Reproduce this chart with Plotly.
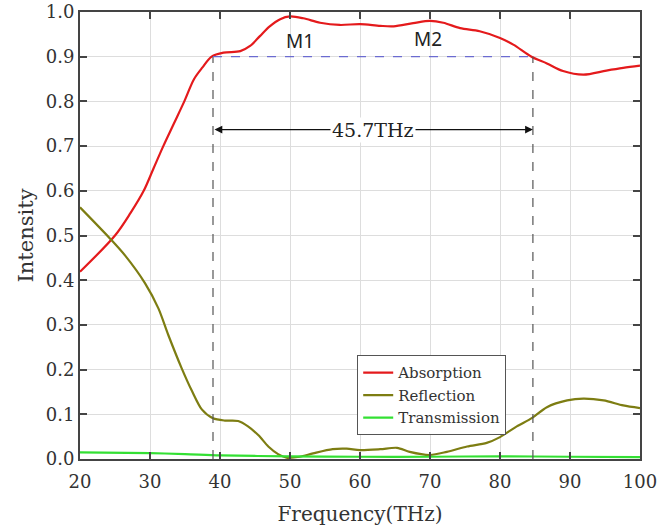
import plotly.graph_objects as go

# ---- data ----
freq_abs = [20, 25.0, 27.2, 29.1, 30.5, 31.9, 33.4, 34.9, 36.3, 37.5, 38.8, 40.5, 42.9, 44.3,
            45.7, 47.1, 48.6, 50, 51.9, 54.3, 57.1, 60, 62.9, 64.8, 67.6, 70, 71.9, 74.3,
            77.1, 80, 81.9, 84.5, 86.7, 89, 91.9, 95.2, 97.6, 100]
absorption = [0.419, 0.5, 0.55, 0.6, 0.65, 0.7, 0.75, 0.8, 0.85, 0.876, 0.9, 0.909, 0.9125,
              0.924, 0.946, 0.968, 0.984, 0.99, 0.986, 0.976, 0.971, 0.973, 0.969, 0.968,
              0.975, 0.98, 0.976, 0.964, 0.957, 0.942, 0.927, 0.9, 0.885, 0.868, 0.86,
              0.869, 0.875, 0.88]

freq_ref = [20, 24.3, 26.4, 29.3, 31.2, 32.6, 34.5, 36.0, 37.4, 39, 40.7, 42.6, 44.0, 45.5,
            46.9, 48.3, 49.5, 51.4, 53.3, 56.1, 58.1, 60, 62.9, 65.3, 67.1, 70, 72.4, 75.3,
            78.1, 80, 82.4, 84.6, 86.7, 89.6, 91.9, 94.8, 97.6, 100]
reflection = [0.563, 0.493, 0.456, 0.393, 0.337, 0.278, 0.204, 0.152, 0.111, 0.091, 0.086,
              0.085, 0.073, 0.053, 0.028, 0.011, 0.003, 0.005, 0.0125, 0.022, 0.023, 0.02,
              0.022, 0.025, 0.016, 0.009, 0.016, 0.028, 0.036, 0.049, 0.073, 0.092, 0.116,
              0.131, 0.135, 0.131, 0.12, 0.114]

freq_tra = [20, 30, 35, 40, 50, 60, 70, 80, 90, 100]
transmission = [0.015, 0.013, 0.011, 0.008, 0.006, 0.005, 0.005, 0.006, 0.005, 0.004]

x_ticks = [20, 30, 40, 50, 60, 70, 80, 90, 100]
y_ticks = [0.0, 0.1, 0.2, 0.3, 0.4, 0.5, 0.6, 0.7, 0.8, 0.9, 1.0]

band_low = 39.0
band_high = 84.7
band_level = 0.9
band_label = "45.7THz"
arrow_level = 0.737
peaks = [("M1", 51.4, 0.935), ("M2", 69.7, 0.94)]

SERIF = "DejaVu Serif"
AXC = "#444444"

fig = go.Figure()
fig.add_trace(go.Scatter(x=freq_abs, y=absorption, name="Absorption", mode="lines",
                         line=dict(color="#e41a1c", width=2.2, shape="spline", smoothing=0.9)))
fig.add_trace(go.Scatter(x=freq_ref, y=reflection, name="Reflection", mode="lines",
                         line=dict(color="#7d7d12", width=2.2, shape="spline", smoothing=0.8)))
fig.add_trace(go.Scatter(x=freq_tra, y=transmission, name="Transmission", mode="lines",
                         line=dict(color="#33e033", width=2.2, shape="spline", smoothing=0.8)))

# dashed guide lines
for xv in (band_low, band_high):
    fig.add_shape(type="line", xref="x", yref="y", x0=xv, x1=xv, y0=0, y1=band_level,
                  line=dict(color="#555555", width=1.2, dash="dash"), layer="above")
fig.add_shape(type="line", xref="x", yref="y", x0=band_low, x1=band_high,
              y0=band_level, y1=band_level,
              line=dict(color="#6b6bd0", width=1.2, dash="dash"), layer="above")

# double arrow
fig.add_annotation(x=band_high, y=arrow_level, ax=band_low, ay=arrow_level,
                   xref="x", yref="y", axref="x", ayref="y", text="",
                   showarrow=True, arrowhead=2, arrowside="end+start",
                   arrowsize=1.3, arrowwidth=1.2, arrowcolor="#111111")
fig.add_annotation(x=(band_low + band_high) / 2, y=arrow_level, xref="x", yref="y",
                   text=band_label, showarrow=False, bgcolor="white",
                   font=dict(family=SERIF, size=19, color="#222222"), borderpad=1)

for lab, px, py in peaks:
    fig.add_annotation(x=px, y=py, xref="x", yref="y", text=lab, showarrow=False,
                       font=dict(family="Noto Sans", size=19, color="#222222"))

axis_common = dict(showline=True, linecolor=AXC, linewidth=2, mirror="ticks",
                   ticks="inside", ticklen=7, tickwidth=2, tickcolor=AXC,
                   showgrid=True, gridcolor="#dddddd", gridwidth=1, zeroline=False,
                   automargin=False, ticklabeloverflow="allow",
                   tickfont=dict(family=SERIF, size=18, color="#333333"))

fig.update_xaxes(range=[20, 100], tickvals=x_ticks, ticktext=[str(v) for v in x_ticks],
                 ticklabelstandoff=5,
                 title=dict(text="Frequency(THz)", font=dict(family=SERIF, size=20, color="#333333"),
                            standoff=22),
                 **axis_common)
fig.update_yaxes(range=[0, 1.0], tickvals=y_ticks, ticktext=[f"{v:.1f}" for v in y_ticks],
                 title=dict(text="Intensity", font=dict(family=SERIF, size=21, color="#333333"),
                            standoff=6),
                 **axis_common)

fig.update_layout(
    width=667, height=526,
    margin=dict(l=80, r=27, t=12, b=67),
    paper_bgcolor="white", plot_bgcolor="white",
    showlegend=True,
    legend=dict(x=0.495, y=0.232, xanchor="left", yanchor="top",
                bgcolor="white", bordercolor="#555555", borderwidth=1,
                font=dict(family=SERIF, size=15, color="#333333"),
                tracegroupgap=0, itemwidth=30),
)

fig.write_html("out.html", config={"displayModeBar": False},
               post_script="document.body.style.margin='0px';")
